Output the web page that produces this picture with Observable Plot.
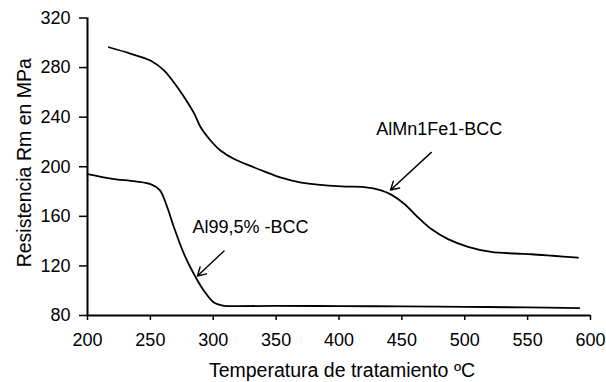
<!DOCTYPE html>
<html>
<head>
<meta charset="utf-8">
<script src="https://cdn.jsdelivr.net/npm/d3@7"></script>
<script src="https://cdn.jsdelivr.net/npm/@observablehq/plot@0.6"></script>
<style>
  html, body { margin: 0; padding: 0; background: #fff; }
  #chart svg { display: block; }
</style>
</head>
<body>
<div id="chart"></div>
<script>
// Series: AlMn1Fe1-BCC (upper curve)
const almnTemp = [217, 234, 250, 261, 271.5, 279.5, 285, 290, 298, 306, 316.6, 330, 340, 354, 370, 402, 420, 433.5, 441.5, 452, 463, 473.4, 486.7, 502.6, 521, 540, 553, 570, 590];
const almnRm   = [296.4, 291.3, 285.7, 277.6, 264.1, 252, 242.6, 231.8, 221, 212.9, 206.2, 200.5, 196.5, 191.2, 187.2, 184.1, 183.6, 181, 177.5, 170, 159, 149.7, 141.6, 135.4, 131.3, 130, 129.4, 128.2, 126.7];

// Series: Al99,5% -BCC (lower curve)
const alTemp = [200, 220, 238, 251, 257.5, 263.5, 268.8, 276.8, 284.7, 292.7, 300.6, 308.6, 320, 350, 400, 450, 500, 550, 591];
const alRm   = [194.1, 190.3, 188.2, 185.6, 181.2, 167.1, 151, 129.5, 113.3, 99.8, 90.4, 87.8, 87.6, 87.7, 87.6, 87.3, 87, 86.5, 86];

// Axis ticks
const xTicks = [200, 250, 300, 350, 400, 450, 500, 550, 600];
const yTicks = [80, 120, 160, 200, 240, 280, 320];

// Annotation labels (data coordinates)
const labelNames = ["Al99,5% -BCC", "AlMn1Fe1-BCC"];
const labelX = [283.4, 479.7];
const labelY = [151.5, 230.5];
const labelAnchor = ["start", "middle"];

// Arrows: tail -> head (data coordinates)
const arrowX1 = [308.6, 473.4];
const arrowY1 = [132.1, 211.6];
const arrowX2 = [287.4, 441];
const arrowY2 = [111.9, 181.2];

const almn = almnTemp.map((t, i) => ({t, v: almnRm[i]}));
const al = alTemp.map((t, i) => ({t, v: alRm[i]}));
const labels = labelNames.map((name, i) => ({name, x: labelX[i], y: labelY[i], anchor: labelAnchor[i]}));
const arrows = arrowX1.map((x1, i) => ({x1, y1: arrowY1[i], x2: arrowX2[i], y2: arrowY2[i]}));

const font = "'Liberation Sans', Arial, Helvetica, sans-serif";

const chart = Plot.plot({
  width: 606,
  height: 382,
  marginLeft: 87,
  marginRight: 16,
  marginTop: 17.5,
  marginBottom: 67,
  style: { fontFamily: font, fontSize: "18px", color: "#000", background: "#fff", overflow: "visible" },
  x: { domain: [200, 600], ticks: xTicks },
  y: { domain: [80, 320], ticks: yTicks },
  marks: [
    Plot.axisX({ ticks: xTicks, tickSize: 5, tickPadding: 13, label: null, fontSize: 18, strokeWidth: 1.5 }),
    Plot.axisY({ ticks: yTicks, tickSize: 8, tickPadding: 9, label: null, fontSize: 18, strokeWidth: 1.5 }),
    Plot.ruleX([200], { stroke: "#000", strokeWidth: 2 }),
    Plot.ruleY([80], { stroke: "#000", strokeWidth: 2 }),
    Plot.line(almn, { x: "t", y: "v", curve: "catmull-rom", stroke: "#000", strokeWidth: 1.8 }),
    Plot.line(al, { x: "t", y: "v", curve: "catmull-rom", stroke: "#000", strokeWidth: 1.8 }),
    Plot.arrow(arrows, { x1: "x1", y1: "y1", x2: "x2", y2: "y2", stroke: "#000", strokeWidth: 1.4, headLength: 10 }),
    Plot.text(labels.filter(d => d.anchor === "start"), { x: "x", y: "y", text: "name", textAnchor: "start", fontSize: 18, fill: "#000" }),
    Plot.text(labels.filter(d => d.anchor === "middle"), { x: "x", y: "y", text: "name", textAnchor: "middle", fontSize: 18, fill: "#000" }),
    Plot.text(["Resistencia Rm en MPa"], { frameAnchor: "left", textAnchor: "middle", lineAnchor: "middle", rotate: -90, dx: -63, dy: -4, fontSize: 19.5, fill: "#000" }),
    Plot.text(["Temperatura de tratamiento ºC"], { frameAnchor: "bottom", textAnchor: "middle", lineAnchor: "middle", dy: 55, dx: 3, fontSize: 19.5, fill: "#000" })
  ]
});
document.getElementById("chart").appendChild(chart);
</script>
</body>
</html>
